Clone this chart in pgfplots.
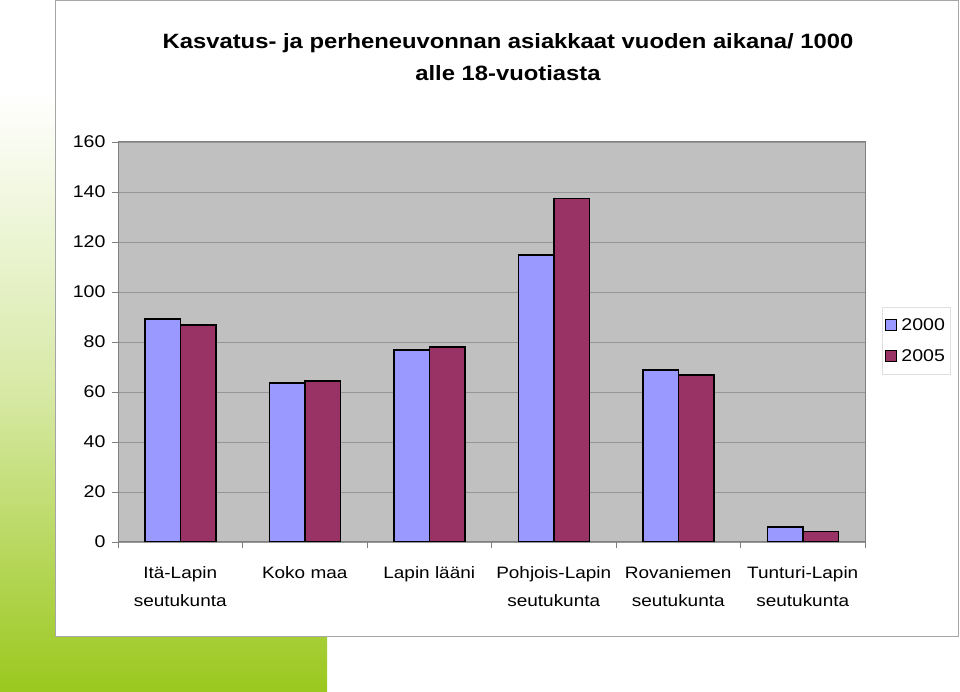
\documentclass[border=0pt]{standalone}
\usepackage{fontspec}
\setmainfont[FakeStretch=1.15]{Liberation Sans}
\usepackage{pgfplots}
\pgfplotsset{compat=1.18}
\definecolor{c2000}{RGB}{153,153,255}
\definecolor{c2005}{RGB}{153,51,102}
\definecolor{plotbg}{RGB}{192,192,192}
\definecolor{gridc}{RGB}{150,150,150}
\definecolor{lgreen}{RGB}{155,200,30}
\begin{document}
\begin{tikzpicture}
\useasboundingbox (0pt,0pt) rectangle (960pt,692pt);
\fill[white] (0pt,0pt) rectangle (960pt,692pt);
\shade[top color=white, bottom color=lgreen, middle color=lgreen!40] (0pt,0pt) rectangle (327pt,600pt);
\draw[gray!70, fill=white, line width=1pt] (55pt,55pt) rectangle (958pt,691.5pt);
\node[font=\bfseries\fontsize{20.7}{32}\selectfont, align=center, anchor=north] at (508pt,662pt) {Kasvatus- ja perheneuvonnan asiakkaat vuoden aikana/ 1000\\alle 18-vuotiasta};
\begin{axis}[at={(118pt,150pt)}, anchor=south west, width=747pt, height=400pt, scale only axis,
  ybar=0pt, bar width=35.5pt,
  xmin=-0.5, xmax=5.5, ymin=0, ymax=160,
  ytick={0,20,...,160},
  xtick={0,...,5},
  xticklabels={{Itä-Lapin\\seutukunta},{Koko maa},{Lapin lääni},{Pohjois-Lapin\\seutukunta},{Rovaniemen\\seutukunta},{Tunturi-Lapin\\seutukunta}},
  minor xtick={-0.5,0.5,...,5.5},
  major x tick style={draw=none},
  tick style={gray, line width=0.8pt},
  major tick length=6pt, minor tick length=6pt,
  tick align=outside, xtick pos=bottom, ytick pos=left,
  axis background/.style={fill=plotbg},
  axis line style={gray, line width=1pt},
  ymajorgrids, grid style={gridc, line width=0.8pt},
  /pgf/number format/assume math mode=true,
  yticklabel style={font=\fontsize{17}{18}\selectfont, xshift=-3pt},
  xticklabel style={font=\fontsize{16.5}{28}\selectfont, align=center, yshift=-15pt},
  legend style={at={(rel axis cs:1.0228,0.5875)}, anchor=north west, draw=gray!25, fill=white,
    font=\fontsize{17}{18}\selectfont, row sep=14pt, inner xsep=3pt, inner ysep=9pt},
  legend image code/.code={\draw[#1, draw=black, line width=0.8pt] (2pt,-5.5pt) rectangle (13pt,5.5pt); \path (15pt,0pt);},
  legend cell align=left,
]
\addplot[fill=c2000, draw=black, line width=1.5pt] coordinates {(0,89.2) (1,63.6) (2,76.8) (3,114.8) (4,68.7) (5,5.9)};
\addplot[fill=c2005, draw=black, line width=1.5pt] coordinates {(0,86.8) (1,64.4) (2,78.0) (3,137.3) (4,66.8) (5,4.1)};
\legend{2000,2005}
\end{axis}
\end{tikzpicture}
\end{document}
